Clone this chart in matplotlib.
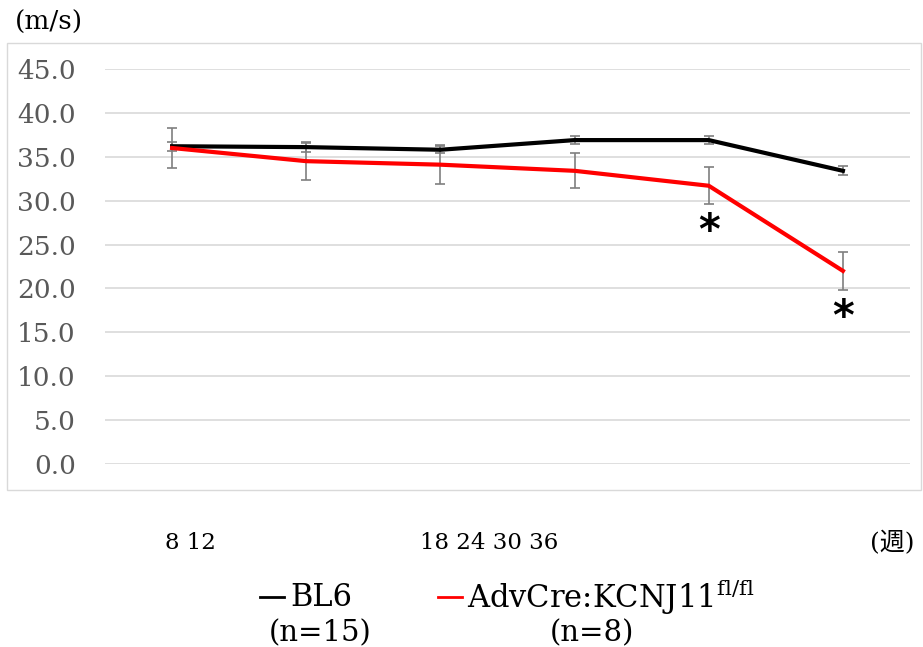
import matplotlib.pyplot as plt
from matplotlib.patches import Rectangle
from matplotlib.lines import Line2D
import numpy as np

plt.rcParams['font.family'] = ['DejaVu Serif', 'Noto Sans CJK JP']
plt.rcParams['mathtext.fontset'] = 'dejavuserif'

### data
weeks = [8, 12, 18, 24, 30, 36]
bl6_mean = [36.2, 36.1, 35.8, 36.9, 36.9, 33.4]
bl6_err = [0.5, 0.6, 0.4, 0.5, 0.5, 0.5]
ko_mean = [36.0, 34.5, 34.1, 33.4, 31.7, 22.0]
ko_err = [2.3, 2.1, 2.2, 2.0, 2.1, 2.2]
signif = [False, False, False, False, True, True]

series_names = ['BL6', 'AdvCre:KCNJ11$^{\\rm fl/fl}$']
series_n = ['(n=15)', '(n=8)']
series_colors = ['black', '#ff0000']

W, H = 923, 647
fig = plt.figure(figsize=(W / 100, H / 100), dpi=100)

### outer chart box
fig.patches.append(Rectangle((7 / W, 1 - 490 / H), (921 - 7) / W, (490 - 43) / H,
                             transform=fig.transFigure, fill=False,
                             edgecolor='#d9d9d9', lw=1.0))

ax = fig.add_axes([105 / W, 1 - 464 / H, (910 - 105) / W, (464 - 69) / H])
x = np.arange(len(weeks))

ax.errorbar(x, bl6_mean, yerr=bl6_err, fmt='none', ecolor='#7f7f7f',
            elinewidth=1.2, capsize=3.5, capthick=1.2, zorder=3)
ax.errorbar(x, ko_mean, yerr=ko_err, fmt='none', ecolor='#7f7f7f',
            elinewidth=1.2, capsize=3.5, capthick=1.2, zorder=3)
ax.plot(x, bl6_mean, color=series_colors[0], lw=3, zorder=4)
ax.plot(x, ko_mean, color=series_colors[1], lw=3, zorder=5)

for i in range(len(x)):
    if signif[i]:
        ax.text(x[i], ko_mean[i] - ko_err[i] - 3.2, '*', ha='center', va='center',
                fontsize=30, fontweight='bold', family='DejaVu Sans', color='black')

ax.set_xlim(-0.5, len(x) - 0.5)
ax.set_ylim(0, 45)
ax.set_yticks(np.arange(0, 46, 5))
ax.set_yticklabels(['%.1f' % v for v in np.arange(0, 46, 5)])
ax.tick_params(axis='y', length=0, pad=21, labelsize=19, labelcolor='#595959')
ax.tick_params(axis='x', length=0, labelbottom=False)
ax.grid(axis='y', color='#d9d9d9', lw=1.2)
ax.set_axisbelow(True)
for s in ax.spines.values():
    s.set_visible(False)

### unit labels and week labels
fig.text(15 / W, 1 - 22 / H, '(m/s)', fontsize=19, ha='left', va='center')
fig.text(190 / W, 1 - 543 / H, ' '.join(str(w) for w in weeks[:2]),
         fontsize=16.5, ha='center', va='center')
fig.text(489 / W, 1 - 543 / H, ' '.join(str(w) for w in weeks[2:]),
         fontsize=16.5, ha='center', va='center')
fig.text(892 / W, 1 - 543 / H, '(週)', fontsize=18, ha='center', va='center')

### legend
leg_x = [260, 438]
name_x = [290, 467]
n_x = [320, 592]
for i in range(2):
    fig.add_artist(Line2D([leg_x[i] / W, (leg_x[i] + 24) / W], [1 - 597 / H, 1 - 597 / H],
                          transform=fig.transFigure, color=series_colors[i], lw=2))
    fig.text(name_x[i] / W, 1 - 597 / H, series_names[i], fontsize=22,
             ha='left', va='center')
    fig.text(n_x[i] / W, 1 - 633 / H, series_n[i], fontsize=21,
             ha='center', va='center')

fig.savefig('out.png', dpi=100)
